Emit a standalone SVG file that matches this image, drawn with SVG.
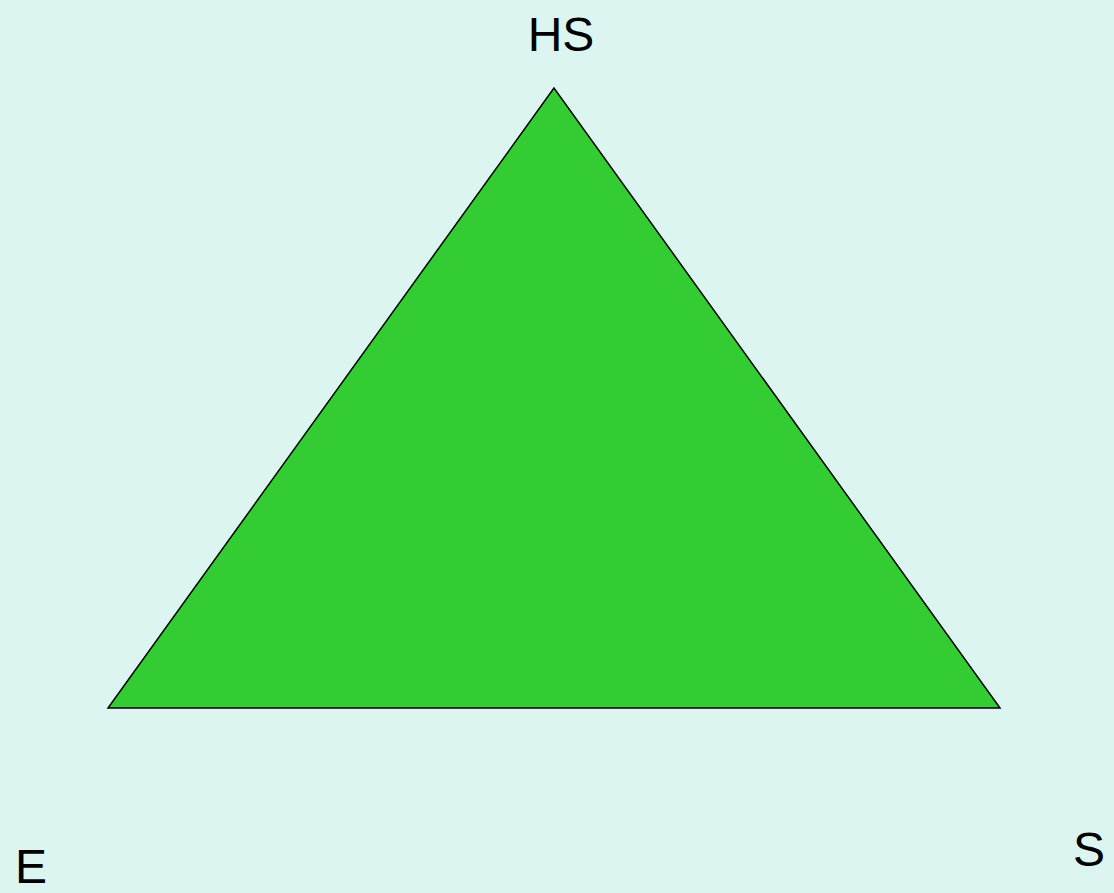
<svg xmlns="http://www.w3.org/2000/svg" width="1114" height="893" viewBox="0 0 1114 893">
<style>
.lbl{font-family:"Liberation Sans",Arial,sans-serif;font-size:48px;fill:#000}
</style>
<rect x="0" y="0" width="1114" height="893" fill="#DDF5F1"/>
<g id="triangle">
<polygon points="554,88 108,708 1000,708" fill="#33CC33" stroke="#000" stroke-width="1.5" stroke-linejoin="miter"/>
</g>
<g id="label-HS"><text class="lbl" x="561" y="51" text-anchor="middle">HS</text></g>
<g id="label-E"><text class="lbl" x="15" y="883">E</text></g>
<g id="label-S"><text class="lbl" x="1073" y="866">S</text></g>
<g id="connectors"></g>
</svg>
